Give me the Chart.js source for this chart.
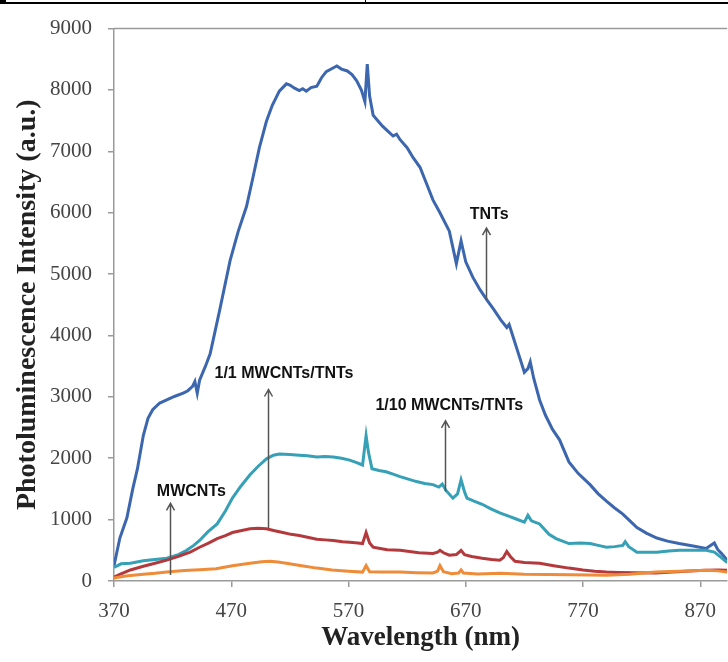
<!DOCTYPE html>
<html>
<head>
<meta charset="utf-8">
<script src="https://cdn.jsdelivr.net/npm/chart.js@4.4.1/dist/chart.umd.min.js"></script>
<style>
  html, body { margin: 0; padding: 0; background: #fff; }
  #wrap { position: relative; width: 728px; height: 662px; }
  #plChart { display: block; }
  .rule { position: absolute; background: #000; }
</style>
</head>
<body>
<div id="wrap">
  <canvas id="plChart" width="728" height="662"></canvas>
  <!-- table border strip along the top edge -->
  <div class="rule" style="left:0;top:2px;width:728px;height:2px"></div>
  <div class="rule" style="left:0;top:0;width:6px;height:4px"></div>
  <div class="rule" style="left:365px;top:0;width:1px;height:4px"></div>
</div>
<script>
// =============================
// PL spectra (wavelength in nm, intensity in a.u.)
// =============================
const xTicks = [370, 470, 570, 670, 770, 870];
const yTicks = [0, 1000, 2000, 3000, 4000, 5000, 6000, 7000, 8000, 9000];

const tntsWl = [370, 375, 381, 386, 390, 395, 399, 403, 409, 415, 422, 429, 433, 437, 439, 441, 443, 448, 452, 460,
  469, 476, 483, 488, 494, 500, 505, 511, 517, 520, 524, 528, 531, 534, 538, 543, 547, 551, 556, 560,
  564, 569, 573, 577, 581, 584, 586, 588, 591, 595, 599, 604, 608, 611, 614, 620, 625, 631, 636, 642,
  648, 656, 662, 666, 670, 676, 682, 688, 694, 700, 705, 707, 710, 715, 720, 723, 725, 728, 733, 738,
  744, 750, 758, 766, 776, 783, 790, 797, 804, 810, 816, 824, 833, 842, 852, 864, 875, 882, 885, 888, 893];
const tntsPl = [250, 700, 1030, 1500, 1830, 2370, 2650, 2790, 2900, 2950, 3010, 3060, 3100, 3170, 3250, 3060, 3270, 3500, 3700, 4400,
  5220, 5700, 6100, 6530, 7060, 7490, 7750, 7980, 8100, 8080, 8030, 7990, 8020, 7980, 8040, 8060, 8200, 8300, 8350, 8390,
  8340, 8310, 8250, 8150, 8000, 7810, 8420, 7900, 7590, 7500, 7410, 7320, 7250, 7280, 7190, 7060, 6900, 6740, 6500, 6210,
  6000, 5700, 5170, 5540, 5200, 4950, 4750, 4580, 4420, 4250, 4130, 4180, 4000, 3700, 3400, 3460, 3570, 3300, 2950, 2700,
  2470, 2300, 1940, 1750, 1570, 1420, 1300, 1190, 1090, 980, 870, 780, 700, 650, 610, 570, 530, 620, 510, 450, 340];

const tenWl = [370, 376, 384, 395, 405, 415, 425, 432, 438, 443, 450, 458, 465, 471, 478, 486, 493, 500, 506, 511,
  520, 528, 535, 543, 550, 557, 564, 571, 577, 582, 585, 587, 590, 596, 602, 608, 614, 621, 628, 635,
  642, 647, 650, 653, 659, 663, 666, 669, 671, 677, 684, 691, 699, 706, 713, 720, 723, 726, 733, 741,
  747, 758, 768, 776, 783, 790, 797, 804, 806, 809, 816, 825, 833, 843, 852, 864, 875, 882, 888, 893];
const tenPl = [220, 280, 290, 330, 350, 370, 430, 500, 580, 660, 800, 930, 1140, 1350, 1540, 1730, 1870, 1990, 2050, 2070,
  2060, 2050, 2040, 2020, 2030, 2020, 2000, 1970, 1930, 1890, 2370, 2100, 1830, 1800, 1780, 1740, 1700, 1660, 1620, 1590,
  1570, 1530, 1580, 1480, 1350, 1420, 1650, 1450, 1350, 1300, 1250, 1180, 1110, 1060, 1010, 960, 1070, 980, 930, 760,
  690, 610, 620, 610, 580, 550, 560, 580, 640, 560, 470, 470, 470, 490, 500, 500, 500, 470, 380, 300];

const oneWl = [370, 375, 384, 395, 405, 415, 425, 435, 443, 451, 458, 465, 471, 478, 486, 493, 500, 507, 514, 521,
  528, 536, 543, 550, 557, 565, 571, 578, 582, 585, 588, 591, 597, 603, 614, 622, 630, 642, 646, 648,
  651, 656, 662, 666, 669, 675, 684, 692, 699, 702, 705, 708, 712, 720, 733, 745, 758, 770, 780, 790,
  800, 815, 832, 850, 865, 875, 885, 893];
const onePl = [60, 110, 180, 240, 290, 340, 400, 470, 550, 620, 690, 740, 790, 820, 850, 860, 850, 820, 790, 760,
  740, 710, 680, 670, 660, 640, 630, 620, 610, 790, 620, 550, 530, 510, 500, 480, 460, 450, 470, 500,
  460, 420, 430, 500, 430, 400, 370, 350, 340, 380, 480, 400, 320, 300, 290, 250, 210, 180, 160, 145,
  140, 135, 130, 150, 165, 175, 180, 175];

const mwWl = [370, 380, 395, 405, 415, 430, 443, 457, 471, 486, 496, 503, 510, 517, 530, 543, 556, 570, 582, 585,
  588, 600, 614, 628, 642, 646, 648, 651, 658, 664, 666, 668, 680, 700, 720, 740, 760, 790, 810, 832,
  852, 875, 885, 893];
const mwPl = [50, 80, 110, 125, 145, 170, 185, 200, 250, 290, 315, 320, 310, 290, 250, 210, 180, 160, 145, 250,
  150, 145, 145, 135, 130, 160, 250, 150, 120, 130, 180, 130, 115, 125, 110, 105, 100, 95, 110, 145,
  160, 175, 165, 145];

// arrow callouts: arrow at x from y0 up to y1, text centred at (tx, ty)
const callouts = [
  { text: "TNTs",             x: 687, y0: 4580, y1: 5750, tx: 690, ty: 5975 },
  { text: "1/1 MWCNTs/TNTs",  x: 501, y0: 865,  y1: 3120, tx: 515, ty: 3380 },
  { text: "1/10 MWCNTs/TNTs", x: 652, y0: 1460, y1: 2610, tx: 656, ty: 2850 },
  { text: "MWCNTs",           x: 418, y0: 96,   y1: 1265, tx: 436, ty: 1460 }
];

const pares = (wl, pl) => wl.map((w, i) => ({ x: w, y: pl[i] }));

function serie(label, wl, pl, cor) {
  return {
    label,
    data: pares(wl, pl),
    borderColor: cor,
    borderWidth: 3,
    pointRadius: 0,
    tension: 0,
    fill: false
  };
}

// =============================
// Setas e rótulos + moldura superior
// =============================
const calloutPlugin = {
  id: "callouts",
  afterDatasetsDraw(chart) {
    const { ctx, scales: { x, y }, chartArea } = chart;
    ctx.save();
    // top frame line of the plot area
    ctx.strokeStyle = "#9a9a9a";
    ctx.lineWidth = 1.5;
    ctx.beginPath();
    ctx.moveTo(chartArea.left, chartArea.top);
    ctx.lineTo(chartArea.right, chartArea.top);
    ctx.stroke();

    for (const c of callouts) {
      const px = Math.round(x.getPixelForValue(c.x)) + 0.5;
      const pb = y.getPixelForValue(c.y0);
      const pt = y.getPixelForValue(c.y1);
      ctx.strokeStyle = "#555";
      ctx.lineWidth = 1.5;
      ctx.beginPath();
      ctx.moveTo(px, pb);
      ctx.lineTo(px, pt);
      ctx.moveTo(px - 4, pt + 7);
      ctx.lineTo(px, pt);
      ctx.lineTo(px + 4, pt + 7);
      ctx.stroke();

      ctx.fillStyle = "#111";
      ctx.font = "bold 16px 'Liberation Sans', Arial, sans-serif";
      ctx.textAlign = "center";
      ctx.textBaseline = "middle";
      ctx.fillText(c.text, x.getPixelForValue(c.tx), y.getPixelForValue(c.ty));
    }
    ctx.restore();
  }
};

const eixo = "#9a9a9a";
const fonteTicks = { family: "'Liberation Serif', 'Times New Roman', serif", size: 21 };
const fonteTitulo = { family: "'Liberation Serif', 'Times New Roman', serif", size: 27, weight: "bold" };
const semMilhar = v => String(v);

new Chart(document.getElementById("plChart"), {
  type: "line",
  data: {
    datasets: [
      serie("TNTs", tntsWl, tntsPl, "#3c66ad"),
      serie("1/10 MWCNTs/TNTs", tenWl, tenPl, "#35a0b6"),
      serie("1/1 MWCNTs/TNTs", oneWl, onePl, "#b4393d"),
      serie("MWCNTs", mwWl, mwPl, "#ee8c3a")
    ].reverse()
  },
  options: {
    responsive: false,
    animation: false,
    layout: { padding: { top: 19, right: 0, bottom: 0, left: 0 } },
    plugins: { legend: { display: false }, tooltip: { enabled: false } },
    scales: {
      x: {
        type: "linear",
        min: 370,
        max: 893,
        afterBuildTicks: s => { s.ticks = xTicks.map(v => ({ value: v })); },
        afterFit: s => { s.height = 81; },
        grid: { drawOnChartArea: false, drawTicks: true, tickLength: 6, color: eixo, lineWidth: 1.5 },
        border: { color: eixo, width: 1.5 },
        ticks: { font: fonteTicks, color: "#444", padding: 12, maxRotation: 0, callback: semMilhar },
        title: { display: true, text: "Wavelength (nm)", font: fonteTitulo, color: "#222", padding: { top: 0, bottom: 8 } }
      },
      y: {
        min: 0,
        max: 9000,
        afterBuildTicks: s => { s.ticks = yTicks.map(v => ({ value: v })); },
        afterFit: s => { s.width = 114; },
        grid: { drawOnChartArea: false, drawTicks: true, tickLength: 6, color: eixo, lineWidth: 1.5 },
        border: { color: eixo, width: 1.5 },
        ticks: { font: fonteTicks, color: "#444", padding: 16, callback: semMilhar },
        title: { display: true, text: "Photoluminescence Intensity (a.u.)", font: { ...fonteTitulo, size: 28 }, color: "#222", padding: { top: 11, bottom: 0 } }
      }
    }
  },
  plugins: [calloutPlugin]
});
</script>
</body>
</html>
